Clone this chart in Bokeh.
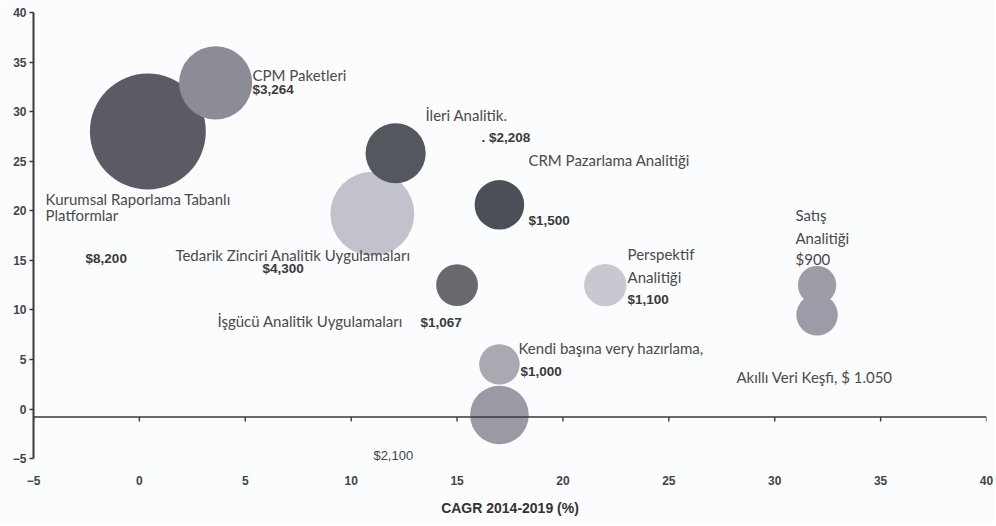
from bokeh.plotting import figure
from bokeh.models import ColumnDataSource, Range1d, Span, FixedTicker
from bokeh.core.properties import value
from bokeh.embed import file_html
from bokeh.resources import INLINE
import numpy as np

# ---- data ----
segments = ["Kurumsal Raporlama Tabanlı Platformlar", "CPM Paketleri", "İleri Analitik",
            "Tedarik Zinciri Analitik Uygulamaları", "CRM Pazarlama Analitiği",
            "İşgücü Analitik Uygulamaları", "Perspektif Analitiği",
            "Kendi başına very hazırlama", "(adsız)", "Satış Analitiği", "Akıllı Veri Keşfi"]
cagr = [0.4, 3.6, 12.1, 11.0, 17.0, 15.0, 22.0, 17.0, 17.0, 32.0, 32.0]
yvals = [28.0, 32.9, 25.8, 19.7, 20.6, 12.5, 12.5, 4.5, -0.6, 12.5, 9.5]
market = [8200, 3264, 2208, 4300, 1500, 1067, 1100, 1000, 2100, 900, 1050]
colors = ["#5c5b63", "#8c8c96", "#55575e", "#c2c2cc", "#4b5057", "#68686f",
          "#c8c8d0", "#a9a9b2", "#9a9aa4", "#9d9da8", "#9c9ca8"]

x_ticks = [-5, 0, 5, 10, 15, 20, 25, 30, 35, 40]
y_ticks = [-5, 0, 5, 10, 15, 20, 25, 30, 35, 40]
x_title = "CAGR 2014-2019 (%)"

# label texts (normal) and their anchor positions (layout)
name_texts = ["CPM Paketleri", "Kurumsal Raporlama Tabanlı", "Platformlar",
              "Tedarik Zinciri Analitik Uygulamaları", "İşgücü Analitik Uygulamaları",
              "İleri Analitik.", "CRM Pazarlama Analitiği", "Perspektif", "Analitiği",
              "Satış", "Analitiği", "$900", "Kendi başına very hazırlama,",
              "Akıllı Veri Keşfi, $ 1.050"]
name_x = [5.34, -4.43, -4.43, 1.70, 3.69, 13.51, 18.37, 23.05, 23.05, 30.98, 30.98, 30.98, 17.90, 28.19]
name_y = [33.74, 21.23, 19.62, 15.58, 8.92, 29.61, 25.07, 15.68, 13.36, 19.62, 17.30, 15.18, 6.20, 3.27]

# value labels (bold)
val_texts = ["$3,264", "$8,200", "$4,300", "$1,067", ". $2,208", "$1,500", "$1,100", "$1,000"]
val_x = [5.34, -2.54, 5.81, 13.27, 16.15, 18.37, 23.05, 17.99]
val_y = [32.23, 15.18, 14.17, 8.72, 27.39, 19.01, 11.04, 3.77]

plain_val_texts = ["$2,100"]
plain_val_x = [11.05]
plain_val_y = [-4.70]

# ---- figure ----
bg = "#fafcfd"
p = figure(width=994, height=524, output_backend="svg", toolbar_location=None,
           x_range=Range1d(-5, 40), y_range=Range1d(-5.8, 40),
           min_border_left=33, min_border_right=8, min_border_top=12, min_border_bottom=58)
p.background_fill_color = bg
p.border_fill_color = bg
p.outline_line_color = None
p.grid.visible = False

order = sorted(range(len(market)), key=lambda i: -market[i])
src = ColumnDataSource(dict(
    x=[cagr[i] for i in order],
    y=[yvals[i] for i in order],
    size=[1.28 * np.sqrt(market[i]) for i in order],
    color=[colors[i] for i in order],
    name=[segments[i] for i in order],
))
p.scatter("x", "y", size="size", source=src, fill_color="color", line_color=None, fill_alpha=1.0)

# x axis line drawn at zero level
axis_y = -0.8
p.add_layout(Span(location=axis_y, dimension="width", line_color="#3a3a3a", line_width=1.6))
p.segment(x0=x_ticks, y0=[axis_y] * len(x_ticks), x1=x_ticks, y1=[axis_y - 0.45] * len(x_ticks),
          line_color="#3a3a3a", line_width=1.4)

# x axis: only labels at bottom
xa = p.xaxis[0]
xa.ticker = FixedTicker(ticks=x_ticks)
xa.axis_line_color = None
xa.major_tick_line_color = None
xa.minor_tick_line_color = None
xa.major_label_standoff = 3
xa.major_label_text_font = "Liberation Sans"
xa.major_label_text_font_style = "bold"
xa.major_label_text_font_size = "12px"
xa.major_label_text_color = "#444444"
xa.axis_label = x_title
xa.axis_label_standoff = 12
xa.axis_label_text_font = "Liberation Sans"
xa.axis_label_text_font_style = "bold"
xa.axis_label_text_font_size = "14px"
xa.axis_label_text_color = "#333333"

ya = p.yaxis[0]
ya.ticker = FixedTicker(ticks=y_ticks)
ya.bounds = (-5, 40)
ya.axis_line_color = "#3a3a3a"
ya.axis_line_width = 2
ya.major_tick_line_color = "#3a3a3a"
ya.major_tick_line_width = 1.4
ya.major_tick_out = 4
ya.major_tick_in = 0
ya.minor_tick_line_color = None
ya.major_label_standoff = 3
ya.major_label_text_font = "Liberation Sans"
ya.major_label_text_font_style = "bold"
ya.major_label_text_font_size = "12px"
ya.major_label_text_color = "#444444"

p.text(x=name_x, y=name_y, text=name_texts, text_font=value("Lato"),
       text_font_size="15px", text_color="#4a4a4a", text_baseline="middle", text_align="left")
p.text(x=val_x, y=val_y, text=val_texts, text_font=value("Liberation Sans"),
       text_font_style="bold", text_font_size="13.5px", text_color="#3a3a3a",
       text_baseline="middle", text_align="left")
p.text(x=plain_val_x, y=plain_val_y, text=plain_val_texts, text_font=value("Liberation Sans"),
       text_font_size="13px", text_color="#444444", text_baseline="middle", text_align="left")

open("out.html", "w").write(file_html(p, INLINE))
